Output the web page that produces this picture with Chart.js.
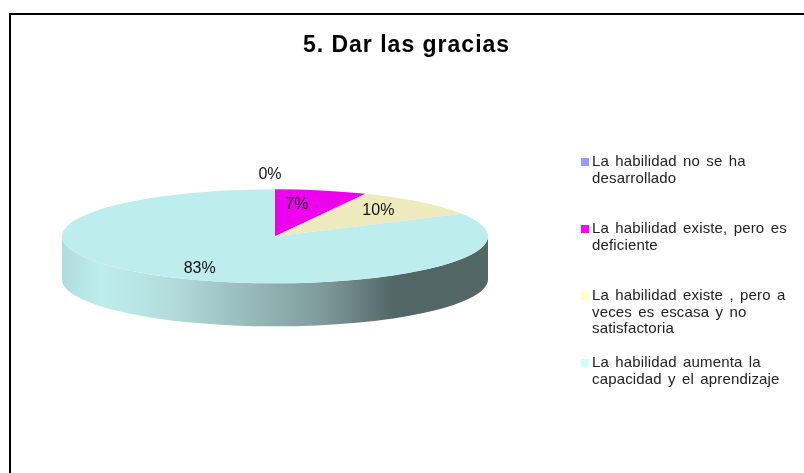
<!DOCTYPE html>
<html><head><meta charset="utf-8">
<style>html,body{margin:0;padding:0;background:#fff;overflow:hidden}canvas{display:block}</style>
<script src="https://cdn.jsdelivr.net/npm/chart.js@4"></script>
</head><body><canvas id="c" width="804" height="473"></canvas>
<script>
const chartTitle = '5. Dar las gracias';
const categories = [
  ['La habilidad no se ha', 'desarrollado'],
  ['La habilidad existe, pero es', 'deficiente'],
  ['La habilidad existe , pero a', 'veces es escasa y no', 'satisfactoria'],
  ['La habilidad aumenta la', 'capacidad y el aprendizaje']
];
const values = [0, 7, 10, 83];
const sliceColors = ['#9999FF', '#EE00EE', '#EDEBBD', '#BEEDED'];
const legendColors = ['#9999FF', '#FF00FF', '#FFFFCC', '#CCFFFF'];
const legendRows = [166, 233, 300, 367];
const labelNudges = [[-5, -26], [-13, 3], [-6, 0], [6, 2]];
const squash = 47 / 213, depth = 43, pieRadius = 213;

const pie3d = {
  id: 'pie3d',
  afterLayout(chart) {
    chart.titleBlock.left = 9; chart.titleBlock.right = 804;
  },
  beforeDraw(chart) {
    const c = chart.ctx;
    c.save(); c.fillStyle = '#000';
    c.fillRect(9, 13, 795, 2);
    c.fillRect(9, 13, 2, 460);
    c.restore();
    c.letterSpacing = '1px';
  },
  beforeDatasetsDraw(chart) {
    const c = chart.ctx, a = chart.getDatasetMeta(0).data[3];
    c.letterSpacing = '0px';
    const cx = a.x, cy = a.y, R = a.outerRadius, ry = R * squash;
    const g = c.createLinearGradient(cx - R, 0, cx + R, 0);
    [[0, '#AEDCDC'], [.09, '#BEEDED'], [.25, '#B3DDDD'], [.44, '#97BABA'], [.61, '#7F9B9B'], [.78, '#536666'], [1, '#546767']]
      .forEach(s => g.addColorStop(s[0], s[1]));
    c.save();
    c.beginPath();
    c.ellipse(cx, cy, R, ry, 0, 0, Math.PI);
    c.ellipse(cx, cy + depth, R, ry, 0, Math.PI, 0, true);
    c.closePath();
    c.fillStyle = g; c.fill();
    c.restore();
    c.save();
    c.translate(cx, cy); c.scale(1, squash); c.translate(-cx, -cy);
  },
  afterDatasetsDraw(chart) {
    const c = chart.ctx;
    c.restore();
    c.save();
    c.font = '16px "Liberation Sans"';
    c.fillStyle = '#111'; c.textAlign = 'center'; c.textBaseline = 'middle';
    chart.getDatasetMeta(0).data.forEach((a, i) => {
      const m = (a.startAngle + a.endAngle) / 2, r = a.outerRadius * .75;
      c.fillText(values[i] + '%',
        a.x + Math.cos(m) * r + labelNudges[i][0],
        a.y + Math.sin(m) * r * squash + labelNudges[i][1]);
    });
    c.font = '15px "Liberation Sans"';
    c.textAlign = 'left'; c.textBaseline = 'alphabetic';
    c.wordSpacing = '2px';
    c.letterSpacing = '0.15px';
    categories.forEach((lines, i) => {
      c.fillStyle = legendColors[i];
      c.fillRect(581, legendRows[i] - 8, 8, 8);
      c.fillStyle = '#222';
      lines.forEach((t, j) => c.fillText(t, 592, legendRows[i] + j * 16.7));
    });
    c.restore();
  }
};

new Chart(document.getElementById('c'), {
  type: 'pie',
  data: { labels: categories.map(l => l.join(' ')), datasets: [{ data: values, backgroundColor: sliceColors, borderWidth: 0, radius: pieRadius, clip: false }] },
  options: {
    responsive: false, animation: false,
    layout: { padding: { left: 62, right: 316, top: 0, bottom: 63 } },
    plugins: {
      legend: { display: false }, tooltip: { enabled: false },
      title: { display: true, text: chartTitle, color: '#000', font: { family: '"Liberation Sans"', size: 23, weight: 'bold', lineHeight: 1.2 }, padding: { top: 32, bottom: 3 } }
    }
  },
  plugins: [pie3d]
});
</script></body></html>
